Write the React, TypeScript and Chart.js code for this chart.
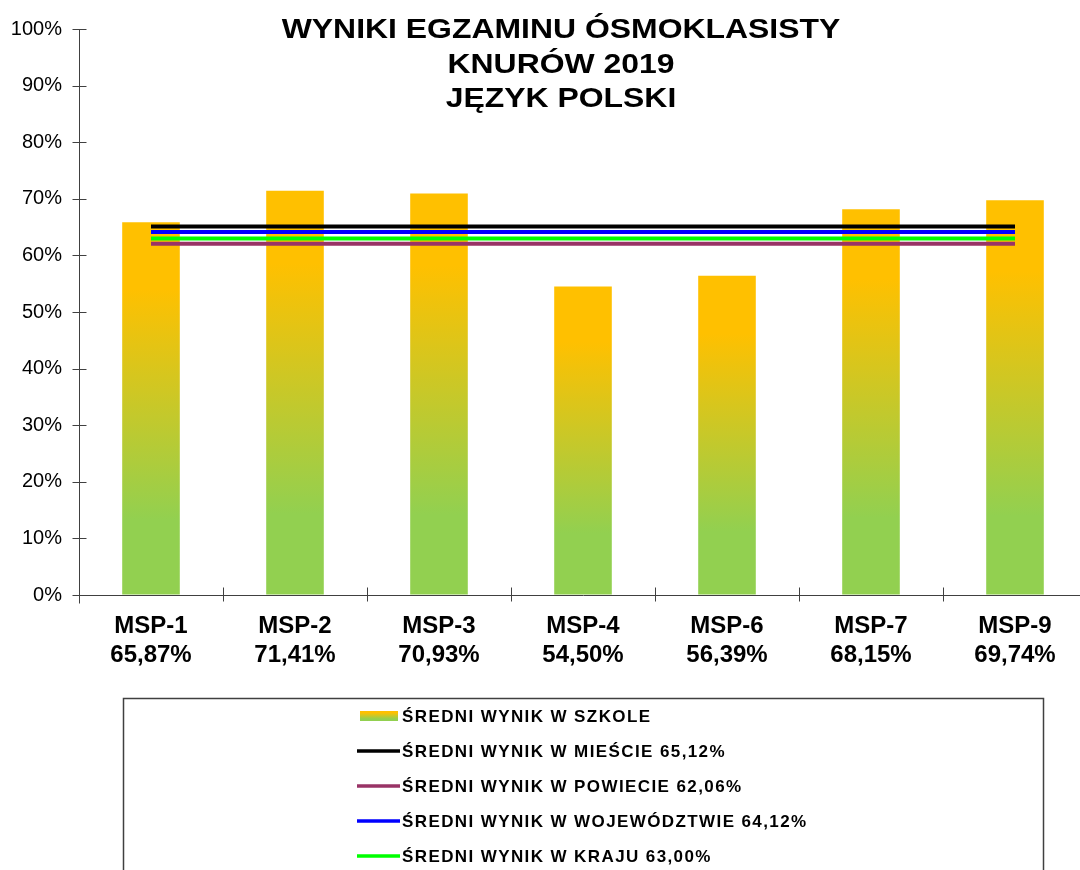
import React, { useEffect, useRef } from "react";
import { Chart, registerables } from "chart.js";

Chart.register(...registerables);

const titleLines = ["WYNIKI EGZAMINU ÓSMOKLASISTY", "KNURÓW 2019", "JĘZYK POLSKI"];
const categories = ["MSP-1", "MSP-2", "MSP-3", "MSP-4", "MSP-6", "MSP-7", "MSP-9"];
const schoolValues = [65.87, 71.41, 70.93, 54.5, 56.39, 68.15, 69.74];
const cityAvg = 65.12;
const countyAvg = 62.06;
const voivodeshipAvg = 64.12;
const countryAvg = 63.0;
const yTicks = [0, 10, 20, 30, 40, 50, 60, 70, 80, 90, 100];

const schoolLabel = "ŚREDNI WYNIK W SZKOLE";
const cityLabel = "ŚREDNI WYNIK W MIEŚCIE 65,12%";
const countyLabel = "ŚREDNI WYNIK W POWIECIE 62,06%";
const voivLabel = "ŚREDNI WYNIK W WOJEWÓDZTWIE 64,12%";
const countryLabel = "ŚREDNI WYNIK W KRAJU 63,00%";

const FONT = '"Liberation Sans", Arial, sans-serif';
const YELLOW = "#FFC000";
const GREEN = "#92D050";
const AXIS = "#404040";

const fmt = (v: number) => v.toFixed(2).replace(".", ",") + "%";

function makeGradient(ctx: CanvasRenderingContext2D, top: number, bottom: number) {
  const g = ctx.createLinearGradient(0, top, 0, bottom);
  g.addColorStop(0, YELLOW);
  g.addColorStop(0.18, YELLOW);
  g.addColorStop(0.8, GREEN);
  g.addColorStop(1, GREEN);
  return g;
}

const decorPlugin = {
  id: "decor",
  afterDraw(chart: any) {
    const ctx: CanvasRenderingContext2D = chart.ctx;
    const xs = chart.scales.x;
    const ys = chart.scales.y;
    const area = chart.chartArea;
    ctx.save();
    // cross tick marks
    ctx.strokeStyle = AXIS;
    ctx.lineWidth = 1;
    ctx.beginPath();
    const ax = Math.round(area.left) + 0.5;
    yTicks.forEach((v) => {
      const py = Math.round(ys.getPixelForValue(v)) + 0.5;
      ctx.moveTo(ax - 7, py);
      ctx.lineTo(ax + 7, py);
    });
    const by = Math.round(area.bottom) + 0.5;
    ctx.moveTo(ax, by);
    ctx.lineTo(ax, by + 8);
    for (let i = 1; i < categories.length; i++) {
      const px = Math.round((xs.getPixelForValue(i - 1) + xs.getPixelForValue(i)) / 2) + 0.5;
      ctx.moveTo(px, by - 8);
      ctx.lineTo(px, by + 6);
    }
    ctx.stroke();

    // title
    ctx.fillStyle = "#000";
    ctx.font = `bold 28px ${FONT}`;
    ctx.textAlign = "center";
    ctx.textBaseline = "alphabetic";
    const baselines = [38, 73, 107];
    titleLines.forEach((t, i) => {
      ctx.save();
      ctx.translate(561, baselines[i]);
      ctx.scale(1.14, 1);
      ctx.fillText(t, 0, 0);
      ctx.restore();
    });

    // legend box
    ctx.strokeStyle = AXIS;
    ctx.lineWidth = 1.5;
    ctx.strokeRect(123.5, 698.5, 920, 200);

    const datasets = chart.data.datasets;
    ctx.textAlign = "left";
    ctx.font = `bold 17px ${FONT}`;
    (ctx as any).letterSpacing = "1.4px";
    datasets.forEach((ds: any, i: number) => {
      const cy = 716 + 35 * i;
      if (ds.type === "bar") {
        ctx.fillStyle = makeGradient(ctx, cy - 5, cy + 5);
        ctx.fillRect(360, cy - 5, 38, 10);
      } else {
        ctx.strokeStyle = ds.borderColor;
        ctx.lineWidth = 3.5;
        ctx.beginPath();
        ctx.moveTo(357, cy);
        ctx.lineTo(400, cy);
        ctx.stroke();
      }
      ctx.fillStyle = "#000";
      ctx.fillText(ds.label, 402, cy + 6);
    });
    (ctx as any).letterSpacing = "0px";
    ctx.restore();
  },
};

export default function App() {
  const ref = useRef<HTMLCanvasElement | null>(null);

  useEffect(() => {
    if (!ref.current) return;
    const lineDs = (label: string, value: number, color: string, order: number) => ({
      type: "line" as const,
      label,
      data: categories.map(() => value),
      borderColor: color,
      backgroundColor: color,
      borderWidth: 4,
      pointRadius: 0,
      borderCapStyle: "butt" as const,
      fill: false,
      order,
    });
    const chart = new Chart(ref.current, {
      type: "bar",
      data: {
        labels: categories,
        datasets: [
          {
            type: "bar",
            label: schoolLabel,
            data: schoolValues,
            backgroundColor: (c: any) => {
              const ch = c.chart;
              const ys = ch.scales && ch.scales.y;
              if (!ys || c.type !== "data") return YELLOW;
              const v = c.raw as number;
              const top = ys.getPixelForValue(v);
              const bottom = ys.getPixelForValue(0);
              if (!isFinite(top) || !isFinite(bottom) || bottom - top < 1) return YELLOW;
              return makeGradient(ch.ctx, top, bottom);
            },
            borderWidth: 0,
            barPercentage: 0.4,
            categoryPercentage: 1.0,
            order: 10,
          } as any,
          lineDs(cityLabel, cityAvg, "#000000", 1),
          lineDs(countyLabel, countyAvg, "#993366", 4),
          lineDs(voivLabel, voivodeshipAvg, "#0000FF", 2),
          lineDs(countryLabel, countryAvg, "#00FF00", 3),
        ],
      },
      options: {
        responsive: false,
        animation: false,
        devicePixelRatio: 1,
        layout: { padding: { top: 26, left: 0, right: 3, bottom: 0 } },
        plugins: {
          legend: { display: false },
          title: { display: false },
          tooltip: { enabled: false },
        },
        scales: {
          x: {
            grid: { display: true, drawOnChartArea: false, drawTicks: false, color: "rgba(0,0,0,0)" },
            border: { display: true, color: AXIS, width: 1 },
            ticks: {
              color: "#000",
              padding: 17,
              font: { family: FONT, size: 24, weight: "bold", lineHeight: 1.2 },
              maxRotation: 0,
              autoSkip: false,
              callback: (_v: any, i: number) => [categories[i], fmt(schoolValues[i])],
            },
            afterFit: (s: any) => {
              s.height = 275;
            },
          },
          y: {
            min: 0,
            max: 100,
            grid: { display: true, drawOnChartArea: false, drawTicks: false, color: "rgba(0,0,0,0)" },
            border: { display: true, color: AXIS, width: 1 },
            ticks: {
              stepSize: 10,
              color: "#000",
              padding: 17,
              font: { family: FONT, size: 20 },
              callback: (v: any) => v + "%",
            },
            afterFit: (s: any) => {
              s.width = 79;
            },
          },
        },
      },
      plugins: [decorPlugin],
    });
    return () => chart.destroy();
  }, []);

  return (
    <div
      style={{
        position: "absolute",
        left: 0,
        top: 0,
        width: 1080,
        height: 870,
        overflow: "hidden",
        background: "#fff",
      }}
    >
      <canvas ref={ref} width={1090} height={870} style={{ display: "block", width: 1090, height: 870 }} />
    </div>
  );
}
